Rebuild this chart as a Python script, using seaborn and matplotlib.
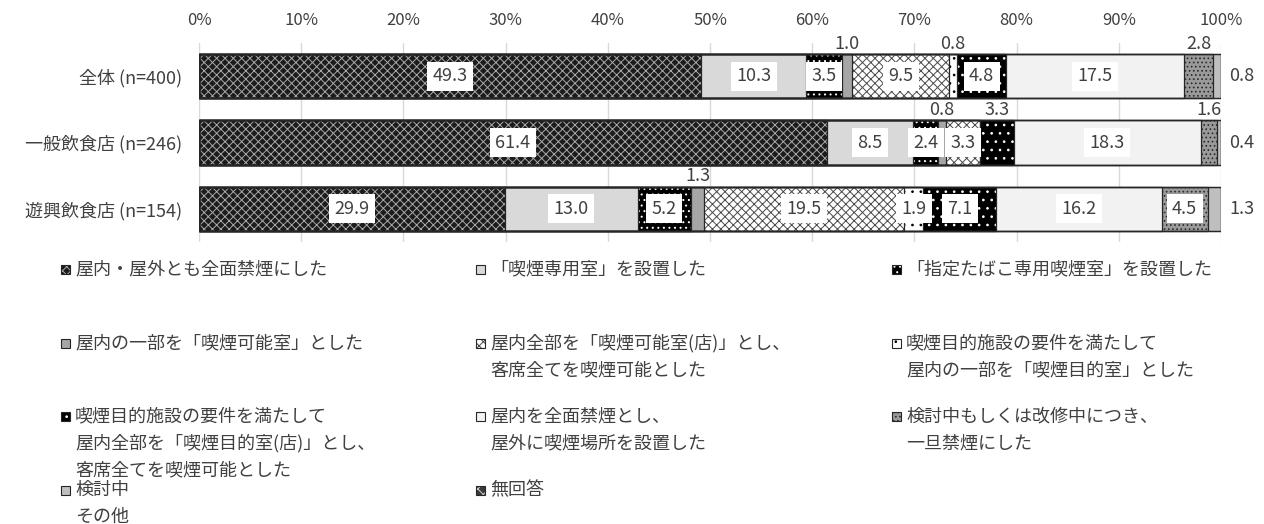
import numpy as np
import pandas as pd
import matplotlib
matplotlib.use("Agg")
import matplotlib.pyplot as plt
from matplotlib.patches import Rectangle
from matplotlib.ticker import FixedLocator, FixedFormatter
import seaborn as sns

# ---- data -------------------------------------------------------------
categories = ["全体 (n=400)", "一般飲食店 (n=246)", "遊興飲食店 (n=154)"]

answers = [
    "屋内・屋外とも全面禁煙にした",
    "「喫煙専用室」を設置した",
    "「指定たばこ専用喫煙室」を設置した",
    "屋内の一部を「喫煙可能室」とした",
    "屋内全部を「喫煙可能室(店)」とし、\n客席全てを喫煙可能とした",
    "喫煙目的施設の要件を満たして\n屋内の一部を「喫煙目的室」とした",
    "喫煙目的施設の要件を満たして\n屋内全部を「喫煙目的室(店)」とし、\n客席全てを喫煙可能とした",
    "屋内を全面禁煙とし、\n屋外に喫煙場所を設置した",
    "検討中もしくは改修中につき、\n一旦禁煙にした",
    "検討中\nその他",
    "無回答",
]

zentai = [49.3, 10.3, 3.5, 1.0, 9.5, 0.8, 4.8, 17.5, 2.8, 0.8, 0.0]
ippan = [61.4, 8.5, 2.4, 0.8, 3.3, 0.0, 3.3, 18.3, 1.6, 0.4, 0.0]
yukyo = [29.9, 13.0, 5.2, 1.3, 19.5, 1.9, 7.1, 16.2, 4.5, 1.3, 0.0]

tick_values = [0, 10, 20, 30, 40, 50, 60, 70, 80, 90, 100]
tick_labels = ["0%", "10%", "20%", "30%", "40%", "50%", "60%", "70%", "80%", "90%", "100%"]

# ---- styles -----------------------------------------------------------
# (face colour, hatch, hatch colour) for each answer
styles = [
    ("#1c1c1c", "xxxx", "#a8a8a8"),
    ("#d9d9d9", None, "#d9d9d9"),
    ("#000000", "...", "#ffffff"),
    ("#a6a6a6", None, "#a6a6a6"),
    ("#ffffff", "xxxx", "#4a4a4a"),
    ("#ffffff", "..", "#000000"),
    ("#000000", "..", "#ffffff"),
    ("#f2f2f2", None, "#f2f2f2"),
    ("#9a9a9a", "....", "#2a2a2a"),
    ("#bfbfbf", None, "#bfbfbf"),
    ("#3a3a3a", "xxx", "#d0d0d0"),
]

# where each value label goes: inside the bar, above it, or right of it
spots = [
    ["in", "in", "in", "up", "in", "up", "in", "in", "up", "right", "in"],
    ["in", "in", "in", "up", "in", "in", "up", "in", "up", "right", "in"],
    ["in", "in", "in", "up", "in", "in", "in", "in", "in", "right", "in"],
]

TEXT = "#404040"
FS = 13

sns.set_style("white")
plt.rcParams["font.family"] = ["Noto Sans CJK JP", "DejaVu Sans"]
plt.rcParams["hatch.linewidth"] = 0.7

W, H = 1264, 524
fig = plt.figure(figsize=(W / 100, H / 100), dpi=100)
ax = fig.add_axes([199 / W, 1 - 242 / H, 1022 / W, 199 / H])

values = np.array([zentai, ippan, yukyo])
totals = values.sum(axis=1, keepdims=True)
shares = values / totals * 100          # 100% stacked
cum = shares.cumsum(axis=1)
starts = cum - shares

df = pd.DataFrame(cum, columns=[f"s{k}" for k in range(len(answers))])
df["区分"] = categories

BAR_W = 0.67
# cumulative bars drawn back to front so each answer shows its own segment
for k in reversed(range(len(answers))):
    fc, hatch, hc = styles[k]
    sns.barplot(data=df, x=f"s{k}", y="区分", orient="y", color=fc,
                saturation=1, width=BAR_W, errorbar=None, hatch=hatch,
                edgecolor=hc, linewidth=0, ax=ax)

for p in list(ax.patches):
    if p.get_width() > 0:
        ax.add_patch(Rectangle(p.get_xy(), p.get_width(), p.get_height(),
                               fill=False, edgecolor="#262626", lw=0.9,
                               zorder=p.get_zorder() + 0.1))

ax.set_xlim(0, 100)
ax.set_ylim(len(categories) - 0.5, -0.5)
ax.xaxis.tick_top()
ax.xaxis.set_major_locator(FixedLocator(tick_values))
ax.xaxis.set_major_formatter(FixedFormatter(tick_labels))
ax.set_axisbelow(True)
ax.grid(axis="x", color="#d9d9d9", lw=1)
ax.grid(axis="y", visible=False)
for s in ax.spines.values():
    s.set_visible(False)
ax.set_xlabel("")
ax.set_ylabel("")
ax.tick_params(axis="x", length=0, pad=10, labelsize=12, labelcolor=TEXT)
ax.tick_params(axis="y", length=0, pad=12, labelsize=FS, labelcolor=TEXT)

# value labels
for i in range(len(categories)):
    for k in range(len(answers)):
        v = values[i, k]
        if v <= 0:
            continue
        txt = f"{v:.1f}"
        mid = starts[i, k] + shares[i, k] / 2
        spot = spots[i][k]
        if spot == "in":
            ax.text(mid, i, txt, ha="center", va="center", fontsize=FS,
                    color=TEXT, zorder=10,
                    bbox=dict(boxstyle="square,pad=0.3", fc="white", ec="none"))
        elif spot == "up":
            ax.text(mid, i - BAR_W / 2 - 0.02, txt, ha="center", va="bottom",
                    fontsize=FS, color=TEXT, zorder=10, clip_on=False)
        else:
            ax.text(100.8, i, txt, ha="left", va="center", fontsize=FS,
                    color=TEXT, zorder=10, clip_on=False)

# legend, laid out in three columns with fixed row slots
col_x = [61, 476, 892]
row_y = [269, 343, 416, 490]
LINE = 27
MK = 9
for idx, label in enumerate(answers):
    r, c = divmod(idx, 3)
    x0, y0 = col_x[c], row_y[r]
    fc, hatch, hc = styles[idx]
    fig.add_artist(Rectangle((x0 / W, 1 - (y0 + MK / 2) / H), MK / W, MK / H,
                             transform=fig.transFigure, facecolor=fc,
                             hatch=hatch, edgecolor=hc, lw=0))
    fig.add_artist(Rectangle((x0 / W, 1 - (y0 + MK / 2) / H), MK / W, MK / H,
                             transform=fig.transFigure, fill=False,
                             edgecolor="#262626", lw=0.8))
    for j, line in enumerate(label.split("\n")):
        fig.text((x0 + 14) / W, 1 - (y0 + j * LINE) / H, line, ha="left",
                 va="center", fontsize=FS, color=TEXT)

fig.savefig("out.png", dpi=100)
